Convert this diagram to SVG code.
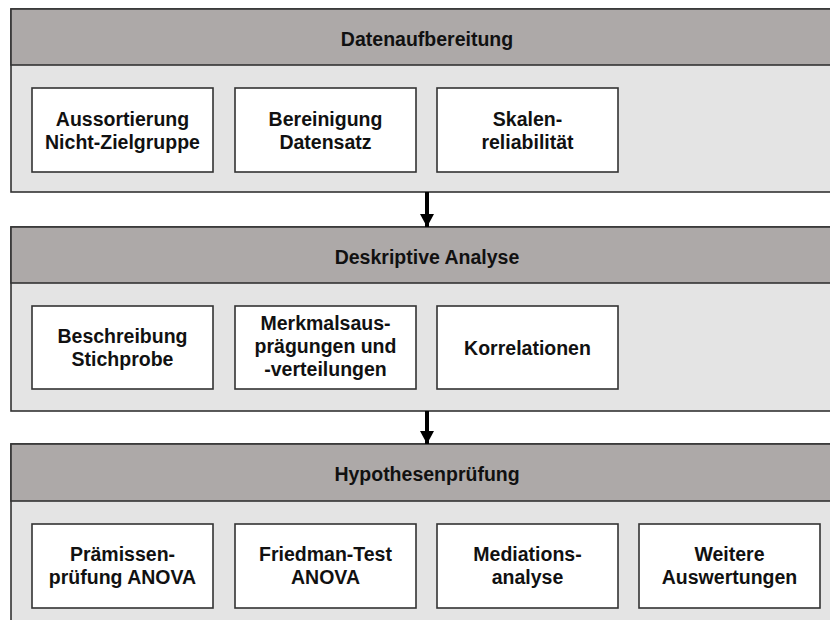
<svg xmlns="http://www.w3.org/2000/svg" width="830" height="620" viewBox="0 0 830 620">
<defs>
<style>
.sec{fill:#E4E4E4;stroke:#333;stroke-width:1.6}
.hdr{fill:#ADA9A8;stroke:#333;stroke-width:1.6}
.box{fill:#fff;stroke:#333;stroke-width:1.6}
.t{font-family:"Liberation Sans",Arial,sans-serif;font-weight:bold;font-size:19.5px;fill:#111;text-anchor:middle}
.conn{stroke:#000;stroke-width:4;fill:none}
</style>
<marker id="ah" markerUnits="userSpaceOnUse" markerWidth="14" markerHeight="14" refX="13" refY="7" orient="auto" viewBox="0 0 14 14">
<path d="M0,0 L13,7 L0,14 Z" fill="#000"/>
</marker>
</defs>
<rect width="830" height="620" fill="#fff"/>

<g id="sec1">
<rect class="sec" x="11" y="9" width="835" height="183"/>
<rect class="hdr" x="11" y="9" width="835" height="56"/>
<text class="t" x="427" y="46">Datenaufbereitung</text>
</g>
<g id="n1a"><rect class="box" x="32" y="88" width="181" height="84"/><text class="t" x="122.5" y="126">Aussortierung</text><text class="t" x="122.5" y="149">Nicht-Zielgruppe</text></g>
<g id="n1b"><rect class="box" x="235" y="88" width="181" height="84"/><text class="t" x="325.5" y="126">Bereinigung</text><text class="t" x="325.5" y="149">Datensatz</text></g>
<g id="n1c"><rect class="box" x="437" y="88" width="181" height="84"/><text class="t" x="527.5" y="126">Skalen-</text><text class="t" x="527.5" y="149">reliabilität</text></g>

<g id="sec2">
<rect class="sec" x="11" y="227" width="835" height="184"/>
<rect class="hdr" x="11" y="227" width="835" height="56"/>
<text class="t" x="427" y="264">Deskriptive Analyse</text>
</g>
<g id="n2a"><rect class="box" x="32" y="306" width="181" height="83"/><text class="t" x="122.5" y="343">Beschreibung</text><text class="t" x="122.5" y="366">Stichprobe</text></g>
<g id="n2b"><rect class="box" x="235" y="306" width="181" height="83"/><text class="t" x="325.5" y="330">Merkmalsaus-</text><text class="t" x="325.5" y="353">prägungen und</text><text class="t" x="325.5" y="376">-verteilungen</text></g>
<g id="n2c"><rect class="box" x="437" y="306" width="181" height="83"/><text class="t" x="527.5" y="355">Korrelationen</text></g>

<g id="sec3">
<rect class="sec" x="11" y="444" width="835" height="200"/>
<rect class="hdr" x="11" y="444" width="835" height="57"/>
<text class="t" x="427" y="481">Hypothesenprüfung</text>
</g>
<g id="n3a"><rect class="box" x="32" y="524" width="181" height="84"/><text class="t" x="122.5" y="561">Prämissen-</text><text class="t" x="122.5" y="584">prüfung ANOVA</text></g>
<g id="n3b"><rect class="box" x="235" y="524" width="181" height="84"/><text class="t" x="325.5" y="561">Friedman-Test</text><text class="t" x="325.5" y="584">ANOVA</text></g>
<g id="n3c"><rect class="box" x="437" y="524" width="181" height="84"/><text class="t" x="527.5" y="561">Mediations-</text><text class="t" x="527.5" y="584">analyse</text></g>
<g id="n3d"><rect class="box" x="639" y="524" width="181" height="84"/><text class="t" x="729.5" y="561">Weitere</text><text class="t" x="729.5" y="584">Auswertungen</text></g>

<g id="connectors">
<line class="conn" x1="427" y1="192" x2="427" y2="227" marker-end="url(#ah)"/>
<line class="conn" x1="427" y1="411" x2="427" y2="444" marker-end="url(#ah)"/>
</g>
</svg>
